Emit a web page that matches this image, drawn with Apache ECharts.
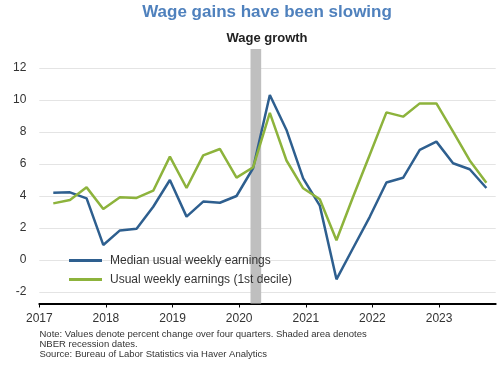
<!DOCTYPE html>
<html><head><meta charset="utf-8">
<script src="https://cdn.jsdelivr.net/npm/echarts@6/dist/echarts.min.js"></script>
<style>html,body{margin:0;padding:0;background:#fff}#c{width:500px;height:365px}</style>
</head><body><div id="c"></div>
<script>
const quarters = ['2017Q1','2017Q2','2017Q3','2017Q4','2018Q1','2018Q2','2018Q3','2018Q4',
  '2019Q1','2019Q2','2019Q3','2019Q4','2020Q1','2020Q2','2020Q3','2020Q4',
  '2021Q1','2021Q2','2021Q3','2021Q4','2022Q1','2022Q2','2022Q3','2022Q4',
  '2023Q1','2023Q2','2023Q3'];
const median = [4.21, 4.23, 3.85, 0.94, 1.85, 1.96, 3.33, 5.0, 2.71, 3.65, 3.58, 4.0,
  5.75, 10.31, 8.13, 5.1, 3.4, -1.21, 0.75, 2.7, 4.84, 5.14, 6.88, 7.4, 6.05, 5.67, 4.5];
const firstDecile = [3.54, 3.75, 4.54, 3.19, 3.92, 3.88, 4.33, 6.46, 4.5, 6.54, 6.94, 5.15,
  5.8, 9.2, 6.22, 4.48, 3.8, 1.23, 3.95, 6.58, 9.23, 8.96, 9.79, 9.79, 8.02, 6.22, 4.83];
const yearTicks = [2017, 2018, 2019, 2020, 2021, 2022, 2023];
const yTicks = [-2, 0, 2, 4, 6, 8, 10, 12];
const recession = [2020.17, 2020.33];
const seriesNames = ['Median usual weekly earnings', 'Usual weekly earnings (1st decile)'];
const titleText = 'Wage gains have been slowing';
const subtitleText = 'Wage growth';
const noteLines = [
  'Note: Values denote percent change over four quarters. Shaded area denotes',
  'NBER recession dates.',
  'Source: Bureau of Labor Statistics via Haver Analytics'
];

// quarter label -> decimal year position on the time scale
function qx(q) { const y = +q.slice(0, 4), n = +q.slice(5); return y + (n - 1) * 0.25 + 0.21; }

const FONT = 'Liberation Sans, Arial, sans-serif';
const chart = echarts.init(document.getElementById('c'), null, { renderer: 'canvas' });
chart.setOption({
  animation: false,
  backgroundColor: '#fff',
  textStyle: { fontFamily: FONT },
  grid: { left: 39.3, right: 4.3, top: 49, bottom: 61.5, containLabel: false },
  xAxis: {
    type: 'value', min: 2017, max: 2023.85,
    axisLine: { show: true, onZero: false, lineStyle: { color: '#000', width: 2 } },
    axisTick: { show: true, length: 4, lineStyle: { color: '#000', width: 1 }, customValues: yearTicks },
    axisLabel: { customValues: yearTicks, color: '#333', fontSize: 12, margin: 9, fontFamily: FONT,
      formatter: v => String(Math.round(v)) },
    splitLine: { show: false }
  },
  yAxis: {
    type: 'value', min: -2.72, max: 13.19,
    axisLine: { show: false },
    axisTick: { show: false, customValues: yTicks },
    axisLabel: { customValues: yTicks, color: '#333', fontSize: 12, margin: 13, fontFamily: FONT,
      formatter: v => String(Math.round(v)) },
    splitLine: { show: true, lineStyle: { color: '#e4e4e4', width: 1 } }
  },
  legend: {
    orient: 'vertical', left: 69, top: 254, padding: 0, itemGap: 6,
    icon: 'rect', itemWidth: 33, itemHeight: 3,
    textStyle: { color: '#333', fontSize: 12, fontFamily: FONT, padding: [0, 0, 0, 3], lineHeight: 13 },
    data: seriesNames
  },
  series: [
    {
      name: seriesNames[0], type: 'line', symbol: 'none', z: 3,
      lineStyle: { color: '#2e5f8f', width: 2.5 }, itemStyle: { color: '#2e5f8f' },
      data: quarters.map((q, i) => [qx(q), median[i]]),
      markArea: {
        silent: true, z: 1,
        itemStyle: { color: '#bfbfbf' },
        data: [[{ xAxis: recession[0] }, { xAxis: recession[1] }]]
      }
    },
    {
      name: seriesNames[1], type: 'line', symbol: 'none', z: 4,
      lineStyle: { color: '#8db33c', width: 2.5 }, itemStyle: { color: '#8db33c' },
      data: quarters.map((q, i) => [qx(q), firstDecile[i]])
    }
  ],
  graphic: [
    { type: 'text', x: 267, y: 12, style: { text: titleText, fill: '#4f81bd',
      font: 'bold 17px ' + FONT, textAlign: 'center', textVerticalAlign: 'middle' } },
    { type: 'text', x: 267, y: 38, style: { text: subtitleText, fill: '#222',
      font: 'bold 13px ' + FONT, textAlign: 'center', textVerticalAlign: 'middle' } },
    { type: 'text', x: 39.5, y: 329.5, style: { text: noteLines.join('\n'), fill: '#333',
      font: '9.5px ' + FONT, lineHeight: 10, textAlign: 'left', textVerticalAlign: 'top' } }
  ]
});
</script></body></html>
